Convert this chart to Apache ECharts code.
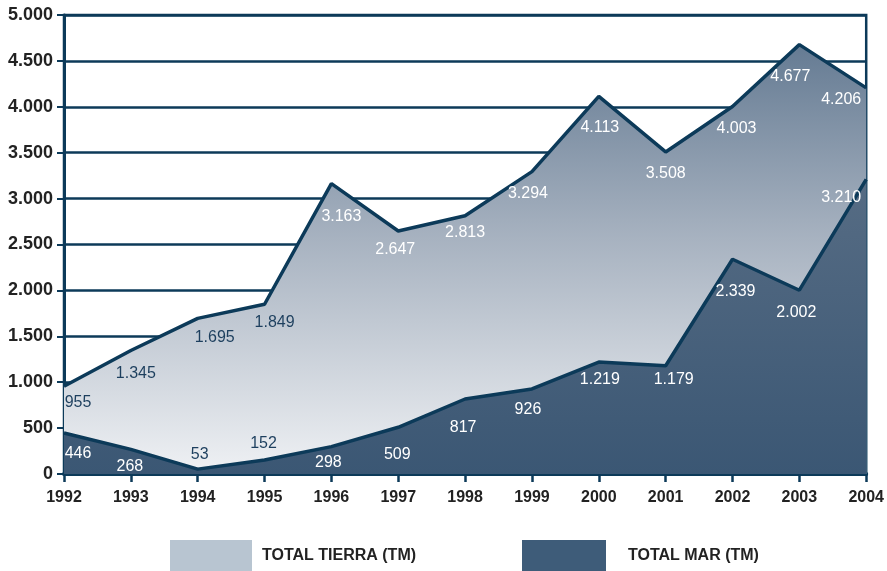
<!DOCTYPE html>
<html>
<head>
<meta charset="utf-8">
<script src="https://cdn.jsdelivr.net/npm/echarts@6/dist/echarts.min.js"></script>
<style>
  html, body { margin: 0; padding: 0; background: #fff; }
  #chart { width: 887px; height: 571px; }
</style>
</head>
<body>
<div id="chart"></div>
<script>
// Years on the horizontal axis
const years = ['1992','1993','1994','1995','1996','1997','1998','1999','2000','2001','2002','2003','2004'];
// Land catch, tonnes
const totalTierra = [955, 1345, 1695, 1849, 3163, 2647, 2813, 3294, 4113, 3508, 4003, 4677, 4206];
// Sea catch, tonnes
const totalMar = [446, 268, 53, 152, 298, 509, 817, 926, 1219, 1179, 2339, 2002, 3210];
// Y-axis ticks
const yMin = 0, yMax = 5000, yStep = 500;

// Label placement around each point [dx, dy] and whether it sits on the light fill
const tierraLabelShift = [[14,16],[5,23],[17,19],[10,18],[10,33],[-3,19],[0,17],[-4,22],[1,31],[0,22],[4,22],[-9,32],[-25,12]];
const tierraLabelDark  = [true,true,true,true,false,false,false,false,false,false,false,false,false];
const marLabelShift = [[14,21],[-1,17],[2,-15],[-1,-16],[-3,16],[-1,27],[-2,29],[-4,21],[1,17],[8,14],[3,32],[-3,22],[-25,18]];
const marLabelDark  = [false,false,true,true,false,false,false,false,false,false,false,false,false];

const NAVY = '#0c3a59';
const DARK_TEXT = '#1d3f5e';
const fmt = v => String(v).replace(/\B(?=(\d{3})+(?!\d))/g, '.');

function buildData(values, shifts, darks) {
  return values.map((v, i) => ({
    value: v,
    label: {
      offset: shifts[i],
      color: darks[i] ? DARK_TEXT : '#ffffff'
    }
  }));
}

const labelBase = {
  show: true,
  position: 'inside',
  fontFamily: '"Liberation Sans", Arial, sans-serif',
  fontSize: 16,
  formatter: p => fmt(p.value)
};

const legendText = {
  fontFamily: '"Liberation Sans", Arial, sans-serif',
  fontWeight: 'bold',
  fontSize: 16,
  color: '#222'
};

const chart = echarts.init(document.getElementById('chart'), null, { renderer: 'canvas' });
chart.setOption({
  animation: false,
  backgroundColor: '#ffffff',
  grid: {
    left: 64, right: 16, top: 15, bottom: 97,
    show: true,
    borderColor: NAVY,
    borderWidth: 2.5,
    backgroundColor: 'transparent'
  },
  legend: [
    {
      left: 170, top: 540, padding: 0,
      itemWidth: 82, itemHeight: 32, itemGap: 0,
      icon: 'rect',
      textStyle: Object.assign({ padding: [2, 0, 0, 5] }, legendText),
      data: [{ name: 'TOTAL TIERRA (TM)', itemStyle: { color: '#b8c5d1' } }]
    },
    {
      left: 522, top: 540, padding: 0,
      itemWidth: 84, itemHeight: 32, itemGap: 0,
      icon: 'rect',
      textStyle: Object.assign({ padding: [2, 0, 0, 17] }, legendText),
      data: [{ name: 'TOTAL MAR (TM)', itemStyle: { color: '#3e5c79' } }]
    }
  ],
  xAxis: {
    type: 'category',
    data: years,
    boundaryGap: false,
    axisLine: { lineStyle: { color: NAVY, width: 4 } },
    axisTick: { show: true, length: 8, lineStyle: { color: NAVY, width: 2.5 } },
    axisLabel: {
      margin: 16,
      color: '#222',
      fontFamily: '"Liberation Sans", Arial, sans-serif',
      fontWeight: 'bold',
      fontSize: 16
    },
    splitLine: { show: false }
  },
  yAxis: {
    type: 'value',
    min: yMin, max: yMax, interval: yStep,
    axisLine: { show: true, lineStyle: { color: NAVY, width: 3 } },
    axisTick: { show: true, length: 7, lineStyle: { color: NAVY, width: 2 } },
    axisLabel: {
      margin: 11,
      color: '#222',
      fontFamily: '"Liberation Sans", Arial, sans-serif',
      fontWeight: 'bold',
      fontSize: 18,
      formatter: v => fmt(v)
    },
    splitLine: { show: true, lineStyle: { color: NAVY, width: 2.5 } }
  },
  series: [
    {
      name: 'TOTAL TIERRA (TM)',
      type: 'line',
      data: buildData(totalTierra, tierraLabelShift, tierraLabelDark),
      symbol: 'circle', symbolSize: 1, showSymbol: true,
      itemStyle: { color: NAVY },
      lineStyle: { color: NAVY, width: 3.5 },
      areaStyle: {
        opacity: 1,
        color: new echarts.graphic.LinearGradient(0, 0, 0, 1, [
          { offset: 0, color: '#657b93' },
          { offset: 0.45, color: '#a7b2c0' },
          { offset: 1, color: '#eff1f4' }
        ])
      },
      label: labelBase,
      z: 2
    },
    {
      name: 'TOTAL MAR (TM)',
      type: 'line',
      data: buildData(totalMar, marLabelShift, marLabelDark),
      symbol: 'circle', symbolSize: 1, showSymbol: true,
      itemStyle: { color: NAVY },
      lineStyle: { color: NAVY, width: 3.5 },
      areaStyle: {
        opacity: 1,
        color: new echarts.graphic.LinearGradient(0, 0, 0, 1, [
          { offset: 0, color: '#566c84' },
          { offset: 1, color: '#3b5774' }
        ])
      },
      label: labelBase,
      z: 3
    }
  ]
});
</script>
</body>
</html>
